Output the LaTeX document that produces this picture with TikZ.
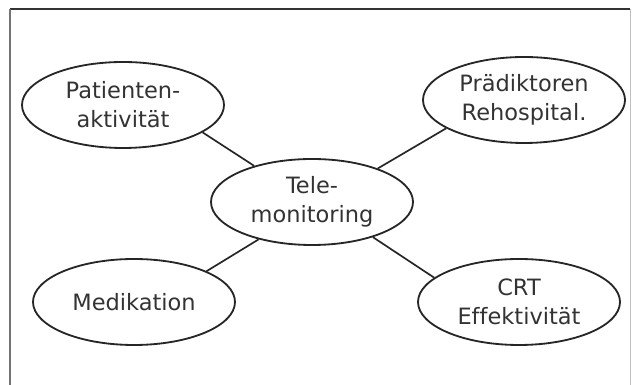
\documentclass[tikz,border=0pt]{standalone}
\usepackage{fontspec}
\setmainfont{DejaVu Sans}[Ligatures=CommonOff]
\usetikzlibrary{shapes.geometric}
\tikzstyle{topic} = [ellipse, minimum width=5.05cm, minimum height=2.15cm, inner sep=0pt, align=center, draw=black!85, line width=1.3pt, text=black!80, font=\fontsize{16}{20.5}\selectfont]
\tikzstyle{link} = [draw=black!85, line width=1.2pt]

\begin{document}
\begin{tikzpicture}[node distance=5cm]
            \useasboundingbox (0,0) rectangle (15.825,9.625);

            % frame
            \draw[black!80, line width=0.9pt] (0.25,9.4) -- (15.75,9.4);
            \draw[black!55, line width=0.9pt] (0.25,9.4) -- (0.25,0);
            \draw[black!25, line width=0.6pt] (15.75,9.4) -- (15.75,0);

            \node[topic] (tele) at (7.8,4.575) {Tele-\\monitoring};

            \node[topic, left of=tele, xshift=0.275cm, yshift=2.425cm] (patient) {Patienten-\\aktivität};
            \node[topic, right of=tele, xshift=0.3cm, yshift=2.55cm] (predictor) {Prädiktoren\\Rehospital.};
            \node[topic, left of=tele, xshift=0.55cm, yshift=-2.5cm] (medication) {Medikation};
            \node[topic, right of=tele, xshift=0.175cm, yshift=-2.5cm] (crt) {CRT\\Effektivität};

            \draw[link] (patient.-19) -- (tele.148);
            \draw[link] (tele.27) -- (predictor.-160);
            \draw[link] (medication.23) -- (tele.215);
            \draw[link] (tele.-30) -- (crt.164);

        \end{tikzpicture}
\end{document}
